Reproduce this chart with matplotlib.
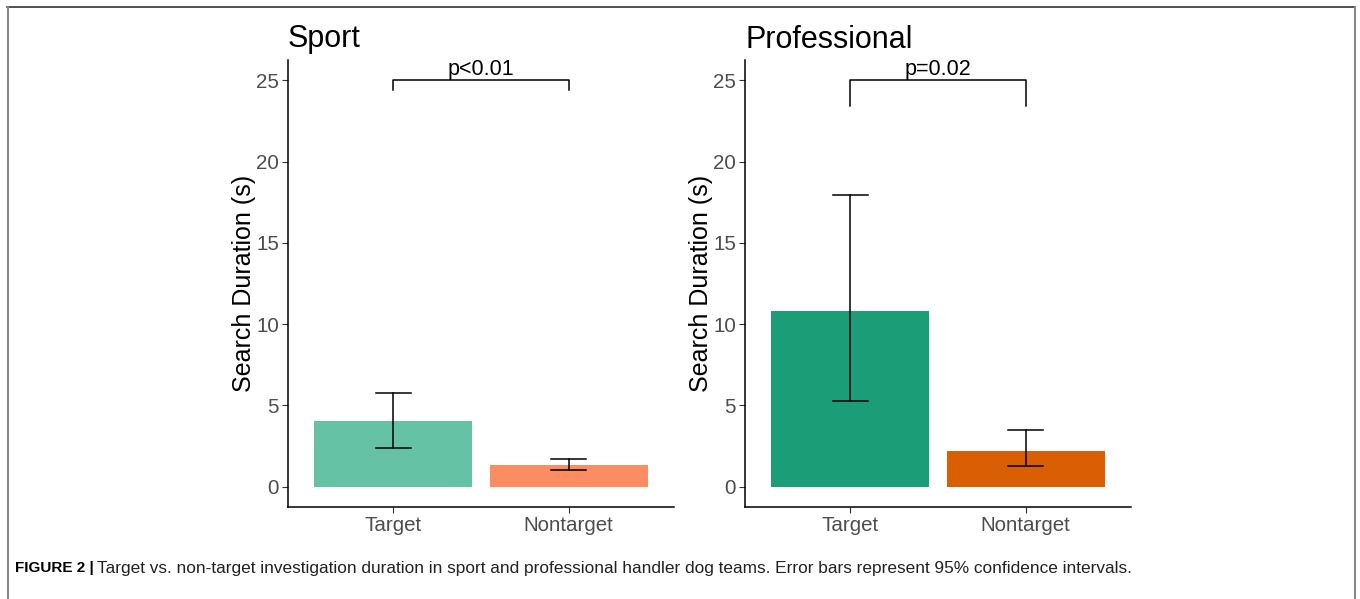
import matplotlib
matplotlib.use('Agg')
import matplotlib.pyplot as plt
from matplotlib.lines import Line2D

plt.rcParams['font.family'] = ['Liberation Sans', 'DejaVu Sans']

groups = ['Target', 'Nontarget']

sport_mean = [4.05, 1.33]
sport_lo = [2.35, 1.00]
sport_hi = [5.79, 1.70]

prof_mean = [10.81, 2.21]
prof_lo = [5.28, 1.27]
prof_hi = [17.94, 3.46]

sport_colors = ['#66C2A5', '#FC8D62']
prof_colors = ['#1B9E77', '#D95F02']

panels = [
    ('Sport', sport_mean, sport_lo, sport_hi, sport_colors, 'p<0.01', 24.4),
    ('Professional', prof_mean, prof_lo, prof_hi, prof_colors, 'p=0.02', 23.4),
]

W, H = 1360, 599
fig = plt.figure(figsize=(W / 100, H / 100), dpi=100)

lefts = [288, 745]
for left, (title, mean, lo, hi, cols, ptxt, bracket_low) in zip(lefts, panels):
    ax = fig.add_axes([left / W, 1 - 507 / H, 386 / W, 447 / H])
    x = [1, 2]
    ax.bar(x, mean, width=0.9, color=cols)
    for xi, m, l, h in zip(x, mean, lo, hi):
        ax.plot([xi, xi], [l, h], color='black', lw=1.1)
        ax.plot([xi - 0.1, xi + 0.1], [l, l], color='black', lw=1.1)
        ax.plot([xi - 0.1, xi + 0.1], [h, h], color='black', lw=1.1)
    # significance bracket
    ax.plot([1, 1, 2, 2], [bracket_low, 25, 25, bracket_low], color='black', lw=1.1)
    ax.text(1.5, 25.05, ptxt, ha='center', va='bottom', fontsize=15.5)

    ax.set_xlim(0.4, 2.6)
    ax.set_ylim(-1.25, 26.25)
    ax.set_xticks(x)
    ax.set_xticklabels(groups)
    ax.set_yticks([0, 5, 10, 15, 20, 25])
    ax.tick_params(labelsize=14.8, labelcolor='#4D4D4D', color='#333333', length=4, width=0.8, pad=2.5)
    for s in ['top', 'right']:
        ax.spines[s].set_visible(False)
    for s in ['left', 'bottom']:
        ax.spines[s].set_linewidth(1.1)
    ax.set_ylabel('Search Duration (s)', fontsize=18, labelpad=0)
    ax.set_title(title, loc='left', fontsize=22, pad=9)

# caption
fig.text(15 / W, 1 - 568 / H, 'FIGURE 2 |', fontsize=11, fontweight='bold', va='center', ha='left')
fig.text(97 / W, 1 - 568 / H,
         'Target vs. non-target investigation duration in sport and professional handler dog teams. '
         'Error bars represent 95% confidence intervals.',
         fontsize=12.4, va='center', ha='left', color='#222222')

# frame around the figure
fig.add_artist(Line2D([7 / W, 1355 / W], [1 - 7 / H, 1 - 7 / H], transform=fig.transFigure, color='#333333', lw=1.2))
fig.add_artist(Line2D([7.5 / W, 7.5 / W], [0, 1 - 7 / H], transform=fig.transFigure, color='#888888', lw=1.5))
fig.add_artist(Line2D([1355 / W, 1355 / W], [0, 1 - 7 / H], transform=fig.transFigure, color='#888888', lw=1.5))

fig.savefig('out.png', dpi=100)
